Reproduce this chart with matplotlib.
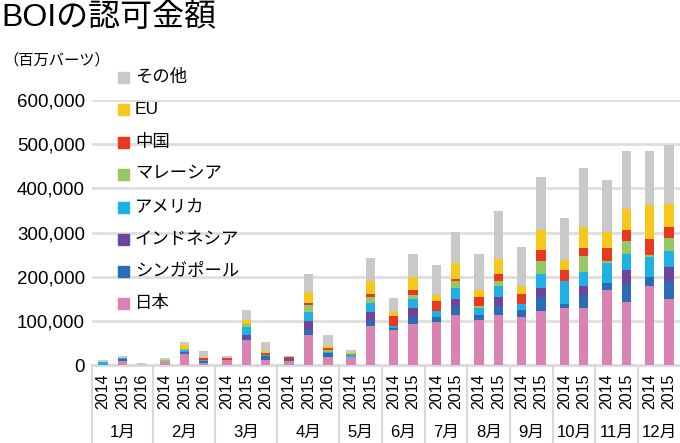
import matplotlib
matplotlib.use("Agg")
import matplotlib.pyplot as plt
from matplotlib.patches import Rectangle
from matplotlib.transforms import blended_transform_factory

plt.rcParams['font.family'] = ['Liberation Sans', 'Noto Sans CJK JP']

W, H = 680, 443

months = ["1月", "2月", "3月", "4月", "5月", "6月",
          "7月", "8月", "9月", "10月", "11月", "12月"]
years = [["2014", "2015", "2016"]] * 4 + [["2014", "2015"]] * 8

series = ["日本", "シンガポール", "インドネシア", "アメリカ",
          "マレーシア", "中国", "EU", "その他"]
colors = ["#db82b5", "#2b6cb5", "#70449b", "#1fb1e6",
          "#95c763", "#e8391e", "#f6c81d", "#c9c9c9"]

# thousand million baht, one value per bar (28 bars, Jan 2014 ... Dec 2015)
japan     = [1, 10, 0.5, 6, 26, 5, 11, 57, 11, 10, 69, 17, 17, 88, 79, 93, 98, 113, 103, 113, 108, 122, 128, 128, 169, 143, 179, 149]
singapore = [0, 3, 0, 0, 3, 4, 0, 5, 9, 3, 10, 10, 1, 11, 5, 16, 10, 21, 10, 21, 16, 32, 10, 31, 16, 41, 20, 41]
indonesia = [0, 1, 0, 0, 1, 1, 0, 5, 1, 0, 20, 1, 0, 20, 0, 20, 0, 15, 0, 20, 0, 20, 0, 20, 0, 31, 0, 31]
usa       = [5, 1, 0, 0, 5, 1, 0, 20, 1, 0, 20, 1, 6, 21, 5, 20, 15, 26, 15, 26, 15, 31, 52, 31, 46, 36, 46, 36]
malaysia  = [0, 0, 0, 5, 1, 0, 0, 5, 1, 0, 16, 4, 0, 15, 0, 10, 0, 15, 5, 10, 0, 30, 1, 36, 5, 30, 4, 31]
china     = [0, 0, 0, 0, 0, 4, 4.5, 0, 4, 4, 5, 6, 0, 5, 21, 11, 21, 5, 21, 15, 21, 26, 24, 20, 30, 25, 37, 25]
eu        = [0, 0, 0, 0, 9, 4, 0, 10, 4, 0, 26, 4, 5, 31, 9, 30, 15, 36, 16, 36, 20, 45, 22, 47, 36, 47, 77, 52]
other     = [6, 5, 5, 5, 7, 12, 4.5, 22, 21, 4, 41, 24, 5, 52, 32, 51, 67, 71, 81, 108, 87, 119, 95, 133, 118, 132, 122, 133]

values = [japan, singapore, indonesia, usa, malaysia, china, eu, other]

# bar positions: 1 unit inside a month, a bit more between months
pos, centers, bounds = [], [], []
x = 0.0
for ys in years:
    start = x
    for _ in ys:
        pos.append(x)
        x += 1
    centers.append((start + x - 1) / 2)
    bounds.append(x - 1 + 0.6)
    x += 0.2
bounds = [-0.57] + bounds[:-1]

fig = plt.figure(figsize=(W / 100, H / 100), dpi=100)
ax = fig.add_axes([92 / W, 1 - 365 / H, 588 / W, 265 / H])

bottom = [0] * len(pos)
for name, col, vals in zip(series, colors, values):
    v = [a * 1000 for a in vals]
    ax.bar(pos, v, width=0.48, bottom=bottom, color=col, zorder=3, linewidth=0)
    bottom = [b + a for b, a in zip(bottom, v)]

ax.set_xlim(-0.57, pos[-1] + 0.57)
ax.set_ylim(0, 600000)
yt = list(range(0, 600001, 100000))
ax.set_yticks(yt, [f"{t:,}" for t in yt], fontsize=13.5)
ax.yaxis.grid(True, color="#dedede", linewidth=2, zorder=0)
ax.tick_params(axis='y', length=0, pad=5)
for s in ["top", "right", "left"]:
    ax.spines[s].set_visible(False)
ax.spines["bottom"].set_color("#d9d9d9")
ax.spines["bottom"].set_linewidth(2)

ax.set_xticks(pos, [y for ys in years for y in ys], rotation=90, fontsize=11.5)
ax.tick_params(axis='x', length=0, pad=6)

trans = blended_transform_factory(ax.transData, ax.transAxes)
for b in bounds:
    ax.plot([b, b], [0, -0.32], transform=trans, clip_on=False,
            color="#d9d9d9", linewidth=1.5)
for c, m in zip(centers, months):
    ax.text(c, -0.253, m, transform=trans, ha='center', va='center', fontsize=12)

fig.text(1 / W, 1 - 3 / H, "BOIの認可金額", fontsize=23, va='top', ha='left')
fig.text(3 / W, 1 - 60 / H, "（百万バーツ）", fontsize=11, va='center', ha='left')

# legend, top entry = top of the stack
leg_y = [303, 271, 239, 207, 174, 142, 109, 77]
for name, col, yy in zip(series, colors, leg_y):
    fig.patches.append(Rectangle((118 / W, 1 - (yy + 6) / H), 11 / W, 11 / H,
                                 transform=fig.transFigure, color=col))
    fig.text(135 / W, 1 - yy / H, name, fontsize=12.5, va='center', ha='left')

fig.savefig("out.png", dpi=100)
